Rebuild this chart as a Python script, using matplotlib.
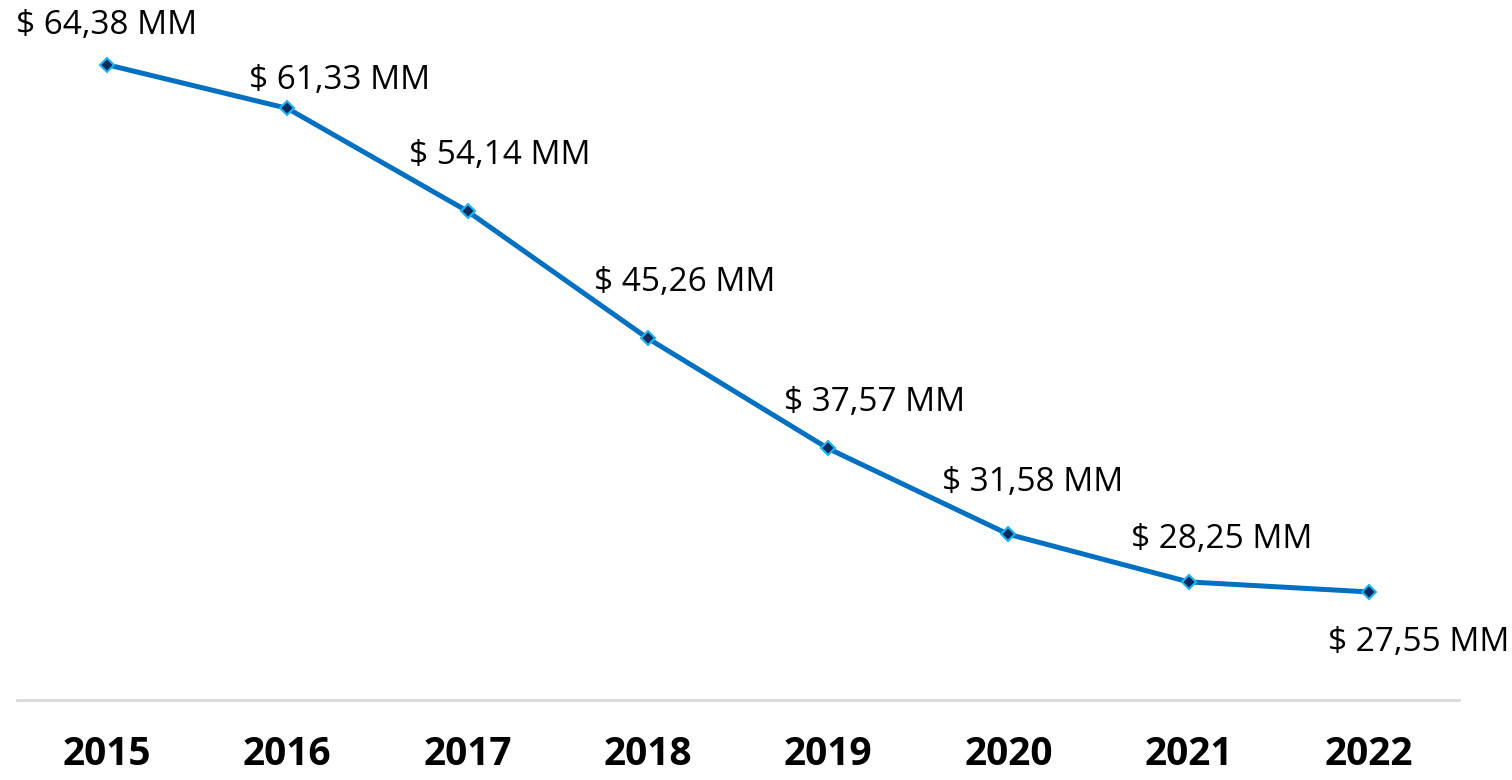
import matplotlib.pyplot as plt

# data
YEARS = ["2015", "2016", "2017", "2018", "2019", "2020", "2021", "2022"]
VALUES = [64.38, 61.33, 54.14, 45.26, 37.57, 31.58, 28.25, 27.55]
LABELS = ["$ 64,38 MM", "$ 61,33 MM", "$ 54,14 MM", "$ 45,26 MM",
          "$ 37,57 MM", "$ 31,58 MM", "$ 28,25 MM", "$ 27,55 MM"]

# label offsets from each point, in pixels (x right, y up) -- hand placed like the original
LABEL_OFFSETS = [(-1, 39), (52, 28), (32, 56), (37, 56),
                 (46, 46), (24, 52), (33, 42), (50, -51)]

LINE_COLOR = "#0070C0"
PX = 72 / 100  # pixels -> points at dpi 100

fig = plt.figure(figsize=(15.12, 7.8), dpi=100, facecolor="white")
ax = fig.add_axes([17 / 1512, 80 / 780, 1442 / 1512, 700 / 780])

x = list(range(len(YEARS)))
ax.plot(x, VALUES, color=LINE_COLOR, linewidth=3.6, solid_capstyle="round",
        marker="D", markersize=7.5, markerfacecolor="#0B2A5E",
        markeredgecolor="#1EB4F0", markeredgewidth=1.5, zorder=3)

for xi, v, lab, (dx, dy) in zip(x, VALUES, LABELS, LABEL_OFFSETS):
    ax.annotate(lab, (xi, v), xytext=(dx * PX, dy * PX), textcoords="offset points",
                ha="center", va="center", fontsize=24, family="Open Sans",
                color="black", annotation_clip=False)

ax.set_xlim(-0.5, len(YEARS) - 0.5)
ax.set_ylim(20, 68.9)

# x-axis: light grey baseline, bold year labels
for side in ["top", "right", "left"]:
    ax.spines[side].set_visible(False)
ax.spines["bottom"].set_color("#D9D9D9")
ax.spines["bottom"].set_linewidth(2)
ax.set_yticks([])
ax.set_xticks(x)
ax.set_xticklabels(YEARS, fontsize=28, fontweight="bold", family="Open Sans")
ax.tick_params(axis="x", length=0, pad=25)
ax.patch.set_alpha(0)

fig.savefig("out.png", dpi=100)
